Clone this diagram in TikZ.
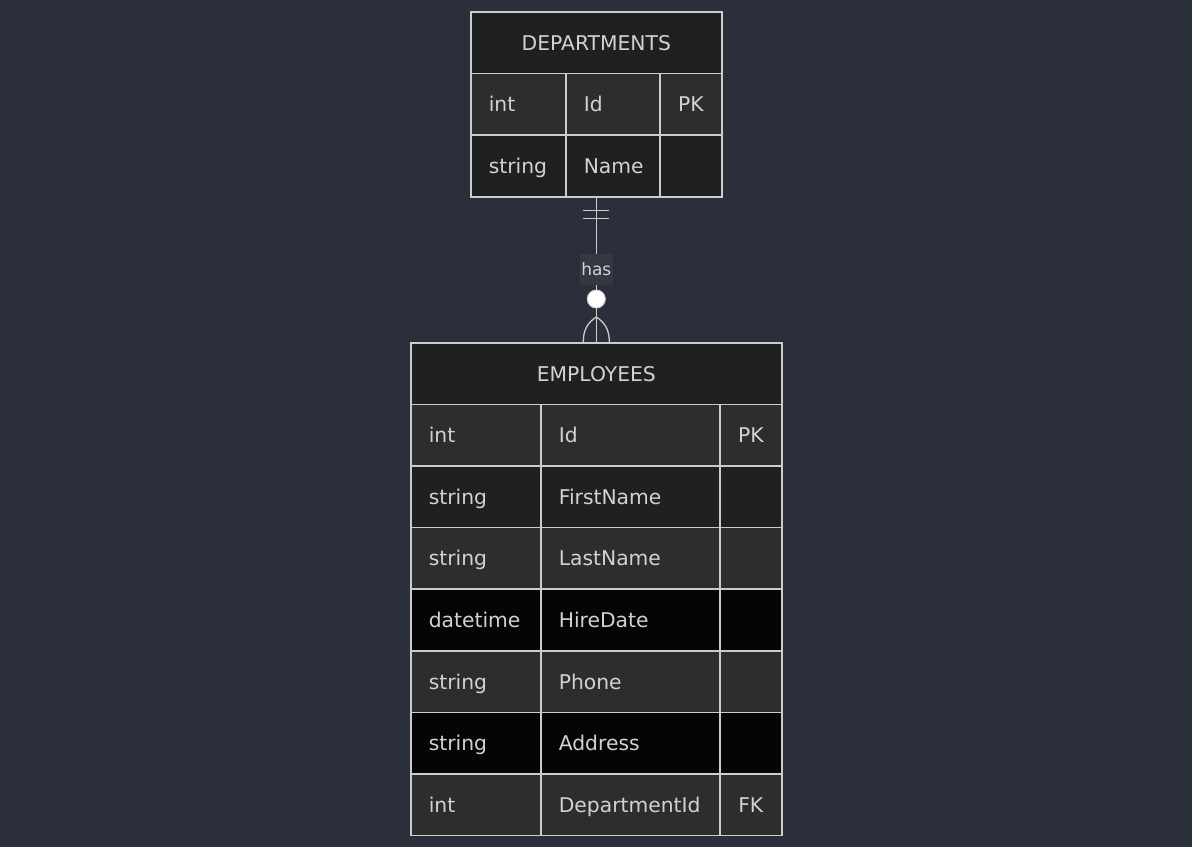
\documentclass[tikz,border=0pt]{standalone}
\usepackage{fontspec}
\setmainfont{DejaVu Sans}
\usetikzlibrary{calc}
\definecolor{bg}{HTML}{2B2F3B}
\definecolor{hdr}{HTML}{1F2020}
\definecolor{rowA}{HTML}{2C2D2D}
\definecolor{rowB}{HTML}{1F2020}
\definecolor{rowC}{HTML}{050505}
\definecolor{linec}{HTML}{CCCCCC}
\definecolor{txt}{HTML}{D2D2D2}
\definecolor{lblbg}{HTML}{353841}
\begin{document}
\begin{tikzpicture}[x=1pt,y=-1pt,
  cell/.style={draw=linec, line width=1.6pt, inner ysep=0pt, anchor=north west, text=txt,
    font=\fontsize{20.3}{24}\selectfont, minimum height=61.6pt, text height=17pt, text depth=2pt},
  lcell/.style={cell, inner xsep=18pt, align=left},
  kcell/.style={cell, inner xsep=0pt, minimum width=62pt, align=center},
  hcell/.style={cell, fill=hdr, inner xsep=0pt, align=center},
  conn/.style={draw=linec, line width=1.3pt}]
\fill[bg] (0,0) rectangle (1192,847);
\useasboundingbox (0,0) rectangle (1192,847);

% DEPARTMENTS
\node[hcell, minimum width=251pt, minimum height=62pt] (dh) at (470,11) {DEPARTMENTS};
\foreach \i/\ty/\nm/\ky/\fc in {1/int/Id/PK/rowA, 2/string/Name//rowB}{
  \pgfmathsetmacro\yy{11+61.67*\i}
  \node[lcell, fill=\fc, text width=59pt] (d\i-t) at (470,\yy) {\ty};
  \node[lcell, fill=\fc, text width=58pt] (d\i-n) at (565,\yy) {\nm};
  \node[kcell, fill=\fc] (d\i-k) at (659,\yy) {\ky};
}

% EMPLOYEES
\node[hcell, minimum width=371pt] (eh) at (410,342) {EMPLOYEES};
\foreach \i/\ty/\nm/\ky/\fc in {1/int/Id/PK/rowA, 2/string/FirstName//rowB, 3/string/LastName//rowA,
  4/datetime/HireDate//rowC, 5/string/Phone//rowA, 6/string/Address//rowC, 7/int/DepartmentId/FK/rowA}{
  \pgfmathsetmacro\yy{342+61.6*\i}
  \node[lcell, fill=\fc, text width=94pt] (e\i-t) at (410,\yy) {\ty};
  \node[lcell, fill=\fc, text width=143pt] (e\i-n) at (540,\yy) {\nm};
  \node[kcell, fill=\fc] (e\i-k) at (719,\yy) {\ky};
}

% relationship
\coordinate (top) at (dh.center |- d2-n.south);
\coordinate (apex) at ($(eh.north)+(0,-25)$);
\draw[conn] (top) -- (eh.north);
\draw[conn] ($(top)+(-13,13)$) -- ($(top)+(13,13)$);
\draw[conn] ($(top)+(-13,21)$) -- ($(top)+(13,21)$);
\draw[conn] (apex) .. controls ($(apex)+(-9,6)$) and ($(eh.north)+(-13,-12)$) .. ($(eh.north)+(-13,0)$);
\draw[conn] (apex) .. controls ($(apex)+(9,6)$) and ($(eh.north)+(13,-12)$) .. ($(eh.north)+(13,0)$);
\node[circle, fill=white, draw=linec, line width=1pt, minimum size=18pt, inner sep=0pt] (opt) at ($(eh.north)+(0,-43)$) {};
\node[fill=lblbg, text=txt, inner xsep=1.5pt, inner ysep=0pt, minimum height=31pt,
  font=\fontsize{17}{20}\selectfont] (lbl) at ($(eh.north)+(0,-73)$) {has};
\end{tikzpicture}
\end{document}
